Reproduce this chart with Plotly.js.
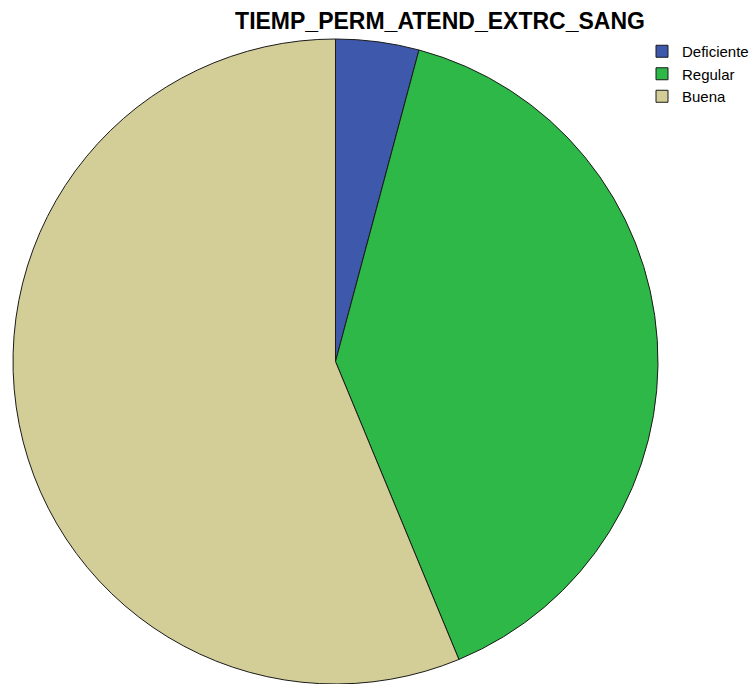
<!DOCTYPE html>
<html>
<head>
<meta charset="utf-8">
<script src="https://cdn.plot.ly/plotly-3.0.1.min.js"></script>
<style>html,body{margin:0;padding:0;background:#fff;}#chart{width:755px;height:684px;}</style>
</head>
<body>
<div id="chart"></div>
<script>
const categories = ["Deficiente", "Regular", "Buena"];
const counts = [2, 19, 27];
const colors = ["#3e58ac", "#2eb848", "#d3ce97"];

const trace = {
  type: "pie",
  labels: categories,
  values: counts,
  sort: false,
  direction: "clockwise",
  rotation: 0,
  textinfo: "none",
  hoverinfo: "label+percent",
  marker: { colors: colors, line: { color: "#1a1a1a", width: 1 } },
  domain: { x: [12/755, 659/755], y: [0, 645/684] }
};

const layout = {
  width: 755, height: 684,
  margin: { l: 0, r: 0, t: 0, b: 0 },
  paper_bgcolor: "#ffffff",
  title: {
    text: "<b>TIEMP_PERM_ATEND_EXTRC_SANG</b>",
    font: { family: "Liberation Sans, Arial, sans-serif", size: 23, color: "#000" },
    x: 440/755, xanchor: "center", y: 1 - 21/684, yanchor: "middle"
  },
  showlegend: true,
  legend: {
    x: 642/755, xanchor: "left", y: 1 - 35/684, yanchor: "top",
    font: { family: "Liberation Sans, Arial, sans-serif", size: 15, color: "#000" },
    itemwidth: 30, tracegroupgap: 0, bgcolor: "rgba(0,0,0,0)"
  }
};

Plotly.newPlot("chart", [trace], layout, { displayModeBar: false, staticPlot: true });
</script>
</body>
</html>
